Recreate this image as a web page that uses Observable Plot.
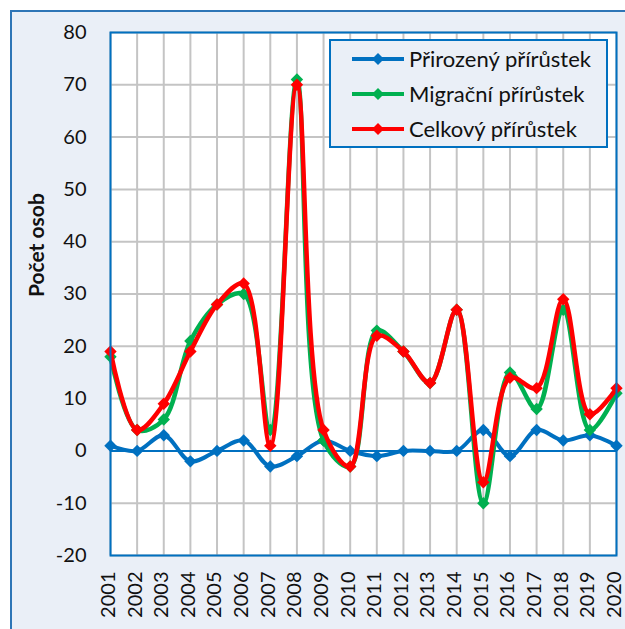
<!DOCTYPE html>
<html>
<head>
<meta charset="utf-8">
<script src="https://cdn.jsdelivr.net/npm/d3@7"></script>
<script src="https://cdn.jsdelivr.net/npm/@observablehq/plot@0.6"></script>
<style>
  html, body { margin: 0; padding: 0; }
  body { width: 625px; height: 629px; overflow: hidden; position: relative; background: #ffffff; font-family: Lato, "Noto Sans", sans-serif; }
  #outer { position: absolute; left: 10px; top: 10px; width: 660px; height: 660px; background: #EAEFF7; border: 2px solid #2E75B6; box-sizing: border-box; }
  #chart { position: absolute; left: 0; top: 0; }
  #legend { position: absolute; left: 329px; top: 39px; width: 279px; height: 109px; box-sizing: border-box; background: #EAEFF7; border: 2px solid #0070C0; padding-top: 0px; }
  .item { display: flex; align-items: center; height: 35px; font-size: 22px; color: #111; white-space: nowrap; }
  .item svg { margin-left: 20px; margin-right: 4px; flex: none; }
</style>
</head>
<body>
<div id="outer"></div>
<div id="chart"></div>
<div id="legend"></div>
<script>
const years = [2001, 2002, 2003, 2004, 2005, 2006, 2007, 2008, 2009, 2010, 2011, 2012, 2013, 2014, 2015, 2016, 2017, 2018, 2019, 2020];
const prirozeny = [1, 0, 3, -2, 0, 2, -3, -1, 2, 0, -1, 0, 0, 0, 4, -1, 4, 2, 3, 1];
const migracni = [18, 4, 6, 21, 28, 30, 4, 71, 2, -3, 23, 19, 13, 27, -10, 15, 8, 27, 4, 11];
const celkovy = [19, 4, 9, 19, 28, 32, 1, 70, 4, -3, 22, 19, 13, 27, -6, 14, 12, 29, 7, 12];
const seriesNames = ["Přirozený přírůstek", "Migrační přírůstek", "Celkový přírůstek"];
const seriesColors = ["#0070C0", "#00B050", "#FF0000"];
const yTicks = [-20, -10, 0, 10, 20, 30, 40, 50, 60, 70, 80];
const yLabel = "Počet osob";

const seriesValues = [prirozeny, migracni, celkovy];
const seriesData = seriesValues.map(vals => years.map((y, i) => ({year: y, value: vals[i]})));

const marks = [
  Plot.frame({fill: "white"}),
  Plot.gridX(years, {stroke: "#C4C4C4", strokeOpacity: 1, strokeWidth: 2}),
  Plot.gridY(yTicks, {stroke: "#C4C4C4", strokeOpacity: 1, strokeWidth: 2}),
  Plot.ruleY([0], {stroke: "#0070C0", strokeWidth: 2})
];
seriesData.forEach((d, k) => {
  marks.push(Plot.line(d, {x: "year", y: "value", stroke: seriesColors[k], strokeWidth: k === 0 ? 4 : 4.5, curve: "catmull-rom"}));
  marks.push(Plot.dot(d, {x: "year", y: "value", fill: seriesColors[k], symbol: "diamond2", r: 5.6, stroke: "none"}));
});
marks.push(
  Plot.frame({stroke: "#0070C0", strokeWidth: 2}),
  Plot.axisY(yTicks, {tickSize: 0, tickPadding: 24, fontSize: 20, label: null, color: "#111", tickFormat: d => String(d)}),
  Plot.axisX(years, {tickSize: 0, tickPadding: 16, tickRotate: -90, fontSize: 20, label: null, tickFormat: d => String(d), color: "#111", dx: -2}),
  Plot.text([yLabel], {frameAnchor: "left", dx: -73, dy: 3, rotate: -90, fontSize: 21, fontWeight: "bold", fill: "#111"})
);

const chart = Plot.plot({
  width: 625,
  height: 629,
  marginLeft: 110,
  marginRight: 9,
  marginTop: 32,
  marginBottom: 74,
  style: {background: "transparent", fontFamily: "Lato, 'Noto Sans', sans-serif", overflow: "visible"},
  x: {domain: [2001, 2020], type: "linear"},
  y: {domain: [-20, 80]},
  marks
});
document.getElementById("chart").appendChild(chart);

const legend = document.getElementById("legend");
seriesNames.forEach((name, k) => {
  const item = document.createElement("div");
  item.className = "item";
  item.innerHTML = `<svg width="54" height="14"><line x1="1" x2="53" y1="7" y2="7" stroke="${seriesColors[k]}" stroke-width="4"/><path d="M27,1 L33,7 L27,13 L21,7 Z" fill="${seriesColors[k]}"/></svg><span>${name}</span>`;
  legend.appendChild(item);
});
</script>
</body>
</html>
